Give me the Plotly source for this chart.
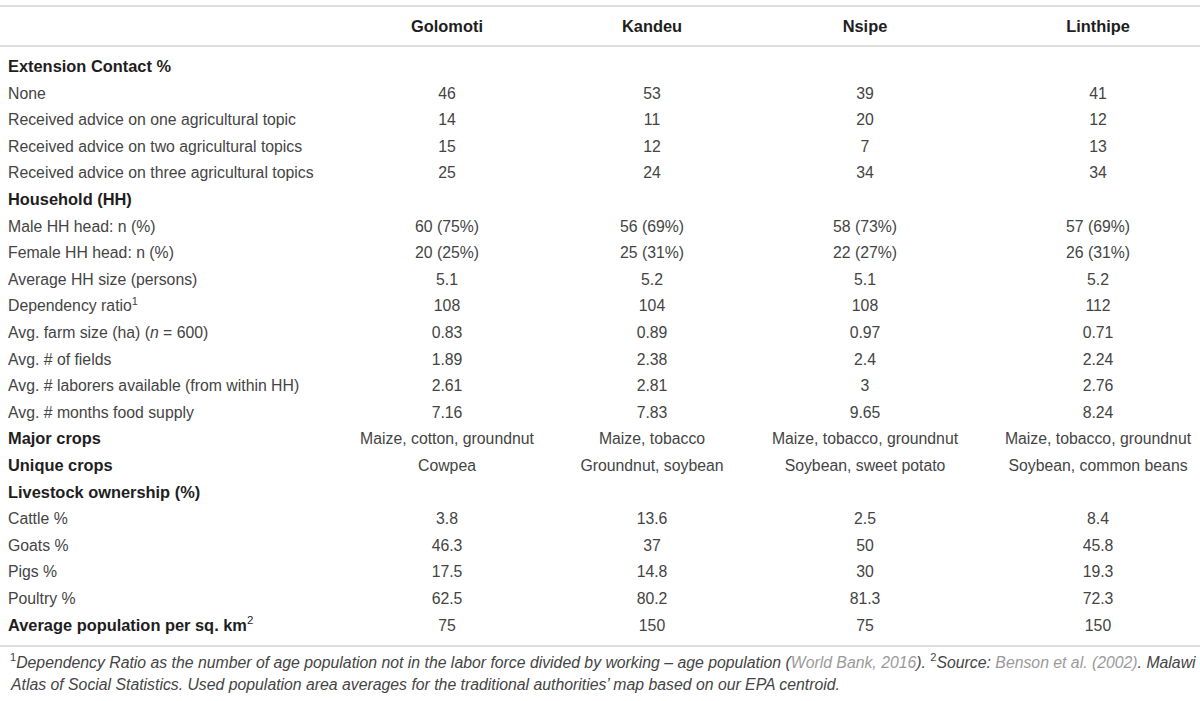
import plotly.graph_objects as go

# ---------------- data ----------------
columns = ["Golomoti", "Kandeu", "Nsipe", "Linthipe"]

row_labels = [
    "<b>Extension Contact %</b>",
    "None",
    "Received advice on one agricultural topic",
    "Received advice on two agricultural topics",
    "Received advice on three agricultural topics",
    "<b>Household (HH)</b>",
    "Male HH head: n (%)",
    "Female HH head: n (%)",
    "Average HH size (persons)",
    "Dependency ratio<sup>1</sup>",
    "Avg. farm size (ha) (<i>n</i> = 600)",
    "Avg. # of fields",
    "Avg. # laborers available (from within HH)",
    "Avg. # months food supply",
    "<b>Major crops</b>",
    "<b>Unique crops</b>",
    "<b>Livestock ownership (%)</b>",
    "Cattle %",
    "Goats %",
    "Pigs %",
    "Poultry %",
    "<b>Average population per sq. km</b><sup>2</sup>",
]

golomoti = ["", "46", "14", "15", "25", "", "60 (75%)", "20 (25%)", "5.1", "108", "0.83",
            "1.89", "2.61", "7.16", "Maize, cotton, groundnut", "Cowpea", "",
            "3.8", "46.3", "17.5", "62.5", "75"]
kandeu = ["", "53", "11", "12", "24", "", "56 (69%)", "25 (31%)", "5.2", "104", "0.89",
          "2.38", "2.81", "7.83", "Maize, tobacco", "Groundnut, soybean", "",
          "13.6", "37", "14.8", "80.2", "150"]
nsipe = ["", "39", "20", "7", "34", "", "58 (73%)", "22 (27%)", "5.1", "108", "0.97",
         "2.4", "3", "9.65", "Maize, tobacco, groundnut", "Soybean, sweet potato", "",
         "2.5", "50", "30", "81.3", "75"]
linthipe = ["", "41", "12", "13", "34", "", "57 (69%)", "26 (31%)", "5.2", "112", "0.71",
            "2.24", "2.76", "8.24", "Maize, tobacco, groundnut", "Soybean, common beans", "",
            "8.4", "45.8", "19.3", "72.3", "150"]

footnote_1 = ("<sup>1</sup><i>Dependency Ratio as the number of age population not in the labor force "
              "divided by working – age population (</i><span style='color:#9a9a9a'><i>World Bank, 2016</i></span>"
              "<i>).</i> <sup>2</sup><i>Source: </i><span style='color:#9a9a9a'><i>Benson et al. (2002)</i></span>"
              "<i>. Malawi</i>")
footnote_2 = ("<i>Atlas of Social Statistics. Used population area averages for the traditional "
              "authorities’ map based on our EPA centroid.</i>")

# ---------------- layout constants ----------------
W, H = 1200, 701
FONT = "Liberation Sans, Arial, sans-serif"
TXT = "#444444"
HEAD = "#1e1e1e"
LINE = "#dedede"
SIZE = 15.8
BOLD_SIZE = 16.4
col_x = [447, 652, 865, 1098]
label_x = 8
header_y = 28
row0_y = 68
row_step = 26.6
row_y = [row0_y + i * row_step for i in range(len(row_labels))]

fig = go.Figure()

# row labels: ordinary rows and bold section rows
is_section = [lab.startswith("<b>") for lab in row_labels]
for sec, size, color in [(False, SIZE, TXT), (True, BOLD_SIZE, HEAD)]:
    ys = [y for y, s in zip(row_y, is_section) if s == sec]
    ts = [t for t, s in zip(row_labels, is_section) if s == sec]
    fig.add_trace(go.Scatter(
        x=[label_x] * len(ts), y=ys, text=ts, mode="text",
        textposition="middle right", textfont=dict(family=FONT, size=size, color=color),
        hoverinfo="skip", showlegend=False))

# column headers
fig.add_trace(go.Scatter(
    x=col_x, y=[header_y] * len(columns), text=["<b>%s</b>" % c for c in columns], mode="text",
    textposition="middle center", textfont=dict(family=FONT, size=BOLD_SIZE, color=HEAD),
    hoverinfo="skip", showlegend=False))

# values (skip empty cells of section-header rows)
for cx, vals in zip(col_x, [golomoti, kandeu, nsipe, linthipe]):
    ys = [y for y, v in zip(row_y, vals) if v]
    ts = [v for v in vals if v]
    fig.add_trace(go.Scatter(
        x=[cx] * len(ts), y=ys, text=ts, mode="text",
        textposition="middle center", textfont=dict(family=FONT, size=SIZE, color=TXT),
        hoverinfo="skip", showlegend=False))

# rules
for yy in [6, 46, 646]:
    fig.add_shape(type="line", x0=0, x1=W, y0=yy, y1=yy, xref="x", yref="y",
                  line=dict(color=LINE, width=2))

# footnotes
fig.add_annotation(x=label_x, y=661, xref="x", yref="y", text=footnote_1, showarrow=False,
                   xanchor="left", yanchor="middle",
                   font=dict(family=FONT, size=15.8, color=TXT))
fig.add_annotation(x=label_x, y=684, xref="x", yref="y", text=footnote_2, showarrow=False,
                   xanchor="left", yanchor="middle",
                   font=dict(family=FONT, size=15.8, color=TXT))

fig.update_layout(
    width=W, height=H, margin=dict(l=0, r=0, t=0, b=0),
    paper_bgcolor="white", plot_bgcolor="white",
    xaxis=dict(range=[0, W], visible=False, fixedrange=True),
    yaxis=dict(range=[H, 0], visible=False, fixedrange=True),
)

fig.write_html("out.html", config={"displayModeBar": False},
               post_script="document.body.style.margin='0px';")
